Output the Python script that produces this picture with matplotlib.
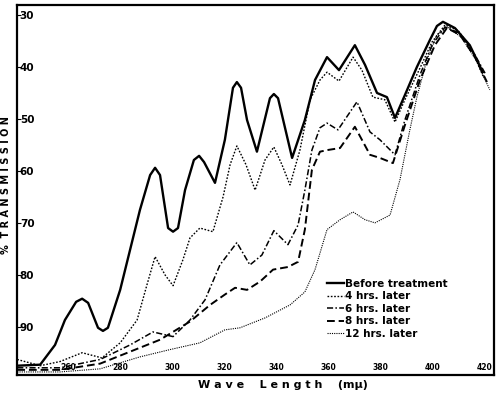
import matplotlib
matplotlib.use("Agg")
import matplotlib.pyplot as plt

# wavelength (m-mu) / % transmission
before_wl = [240.5, 249.3, 255.0, 258.8, 263.1, 265.4, 267.7, 271.5, 273.4, 275.3,
             280.0, 287.6, 291.5, 293.4, 295.3, 298.4, 300.3, 302.2, 304.9, 308.3,
             310.3, 312.2, 316.4, 320.2, 323.3, 324.8, 326.4, 328.7, 332.5, 337.5,
             339.0, 340.6, 346.0, 350.9, 354.8, 359.4, 364.0, 370.1, 374.0, 378.6,
             382.4, 385.5, 389.3, 393.9, 398.9, 401.6, 403.9, 408.5, 414.2, 419.2]
before_t = [97.5, 97.3, 93.5, 88.7, 85.2, 84.6, 85.4, 90.2, 90.8, 90.2,
            82.9, 67.5, 60.8, 59.4, 60.8, 71.0, 71.7, 71.0, 63.7, 57.9,
            57.1, 58.3, 62.3, 54.0, 44.0, 42.9, 44.0, 50.2, 56.3, 46.0,
            45.2, 46.0, 57.5, 50.2, 42.5, 38.1, 40.6, 35.8, 39.6, 45.0,
            45.8, 49.8, 45.4, 40.0, 34.8, 32.1, 31.3, 32.5, 35.8, 41.0]

h4_wl = [240.5, 249.3, 256.9, 265.4, 273.0, 280.0, 286.5, 290.3, 293.4, 297.2,
         300.3, 304.1, 306.8, 310.6, 315.6, 319.5, 322.2, 324.8, 328.3, 331.8,
         335.6, 339.0, 342.1, 345.2, 349.0, 352.9, 356.7, 359.4, 364.0, 369.4,
         372.8, 377.0, 381.6, 385.5, 389.3, 395.1, 399.7, 404.7, 409.6, 415.0,
         419.6]
h4_t = [96.3, 97.5, 96.7, 95.0, 96.0, 93.1, 88.7, 81.9, 76.5, 80.0,
        82.1, 77.1, 72.9, 71.0, 71.7, 65.0, 58.8, 55.2, 58.8, 63.7,
        57.9, 55.4, 58.8, 62.7, 56.0, 46.3, 42.5, 41.0, 42.7, 38.1,
        40.6, 45.8, 46.3, 50.6, 46.3, 40.2, 35.2, 31.9, 32.9, 36.7,
        42.1]

h6_wl = [240.5, 256.9, 272.3, 283.8, 292.6, 300.3, 306.8, 312.6, 318.3, 324.8,
         329.8, 334.4, 339.0, 344.4, 348.3, 350.9, 353.6, 356.7, 359.4, 363.6,
         370.9, 375.9, 379.7, 385.5, 389.3, 395.1, 399.7, 404.7, 410.4, 416.2,
         420.4]
h6_t = [97.9, 97.9, 96.3, 93.5, 91.0, 91.9, 88.7, 84.8, 78.1, 73.8,
        78.1, 76.2, 71.5, 74.2, 70.4, 63.7, 56.0, 51.7, 50.8, 52.1,
        46.7, 52.5, 54.0, 56.9, 50.2, 41.5, 35.8, 32.3, 33.5, 37.7,
        41.5]

h8_wl = [240.5, 256.9, 272.3, 283.8, 295.3, 306.8, 314.5, 320.2, 324.1, 328.7,
         333.7, 338.7, 344.4, 348.3, 350.9, 353.6, 356.7, 359.4, 364.4, 370.1,
         375.9, 379.7, 384.7, 389.3, 395.1, 400.8, 405.4, 410.4, 416.2, 420.8]
h8_t = [98.3, 98.3, 97.1, 94.8, 92.5, 89.0, 85.8, 83.8, 82.5, 82.9,
        81.3, 79.0, 78.5, 77.5, 71.3, 59.8, 56.3, 56.0, 55.6, 51.5,
        56.9, 57.5, 58.5, 51.2, 42.5, 35.8, 32.5, 33.8, 38.1, 42.9]

h12_wl = [240.5, 256.9, 272.3, 287.6, 299.1, 310.6, 320.2, 326.0, 335.6, 345.2,
          350.9, 354.8, 359.4, 364.4, 369.4, 374.0, 377.8, 383.6, 387.4, 391.2,
          393.9, 397.7, 401.6, 405.8, 411.2, 416.6, 421.9]
h12_t = [98.7, 98.7, 98.1, 95.8, 94.4, 93.1, 90.6, 90.2, 88.3, 85.8,
         83.3, 79.0, 71.3, 69.4, 67.9, 69.4, 70.0, 68.5, 61.7, 52.1,
         45.8, 38.7, 33.8, 32.3, 34.4, 38.7, 44.4]

x_ticks = [260, 280, 300, 320, 340, 360, 380, 400, 420]
y_ticks = [30, 40, 50, 60, 70, 80, 90]

fig = plt.figure(figsize=(5.0, 3.99), dpi=100)
ax = fig.add_axes([0.034, 0.06, 0.954, 0.927])

ax.plot(before_wl, before_t, color="black", lw=1.7, label="Before treatment")
ax.plot(h4_wl, h4_t, color="black", lw=1.0, linestyle=(0, (1.2, 1.2)),
        label="4 hrs. later")
ax.plot(h6_wl, h6_t, color="black", lw=1.1, linestyle=(0, (4, 1.5, 1, 1.5)),
        label="6 hrs. later")
ax.plot(h8_wl, h8_t, color="black", lw=1.4, linestyle=(0, (4, 2)),
        label="8 hrs. later")
ax.plot(h12_wl, h12_t, color="black", lw=0.8, linestyle=(0, (1, 1)),
        label="12 hrs. later")

ax.set_xlim(240.4, 423.5)
ax.set_ylim(99.3, 28.1)

ax.set_xticks(x_ticks)
ax.set_yticks(y_ticks)
ax.tick_params(axis="x", direction="in", length=0, pad=-9, labelsize=5.5)
ax.tick_params(axis="y", direction="in", length=3, pad=-2, labelsize=7.5)
for lab in ax.get_yticklabels():
    lab.set_horizontalalignment("left")
    lab.set_fontweight("bold")
for lab in ax.get_xticklabels():
    lab.set_fontweight("bold")

for s in ax.spines.values():
    s.set_linewidth(1.6)

leg = ax.legend(loc="upper left", bbox_to_anchor=(0.64, 0.275), frameon=False,
                handlelength=1.6, handletextpad=0.1, labelspacing=0.25,
                borderpad=0, prop={"size": 7.5, "weight": "bold"})

fig.text(0.013, 0.535, "%  T R A N S M I S S I O N", rotation=90,
         ha="center", va="center", fontsize=7, fontweight="bold")
fig.text(0.565, 0.035, "W a v e    L e n g t h    (mμ)", ha="center",
         va="center", fontsize=8, fontweight="bold")

fig.savefig("out.png", dpi=100)
